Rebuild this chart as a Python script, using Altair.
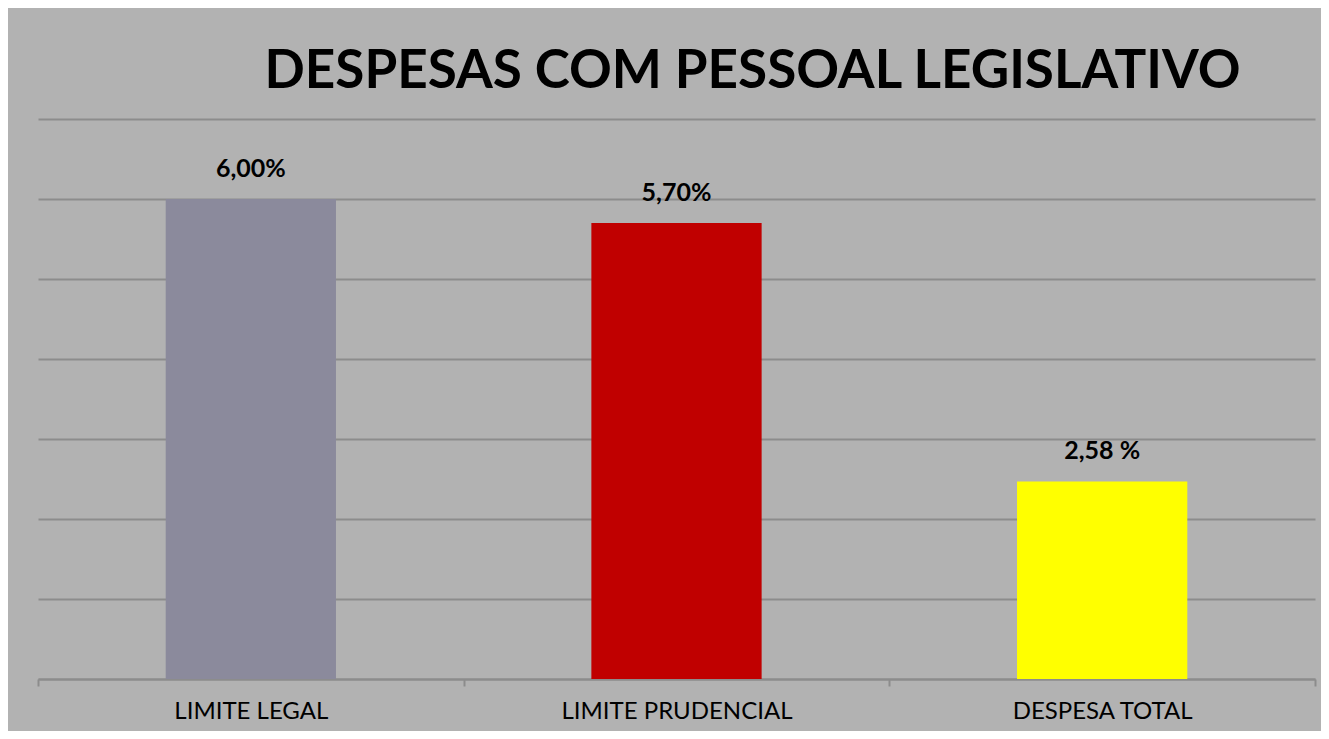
import altair as alt
import pandas as pd

categories = ["LIMITE LEGAL", "LIMITE PRUDENCIAL", "DESPESA TOTAL"]
values = [6.00, 5.70, 2.47]
labels = ["6,00%", "5,70%", "2,58 %"]
colors = ["#8b8a9c", "#c00000", "#ffff00"]

df = pd.DataFrame({"cat": categories, "val": values, "lab": labels, "col": colors})

GRID = "#8c8c8c"
BG = "#b2b2b2"

x = alt.X("cat:N", sort=categories, title=None,
          scale=alt.Scale(paddingInner=0, paddingOuter=0),
          axis=alt.Axis(labelAngle=0, labelFont="Lato", labelFontSize=24,
                        labelColor="#000000", labelPadding=13, labelLimit=0,
                        tickBand="extent",
                        tickColor=GRID, tickWidth=2, tickSize=7,
                        domainColor=GRID, domainWidth=2, grid=False))
y = alt.Y("val:Q", title=None,
          scale=alt.Scale(domain=[0, 7], nice=False),
          axis=alt.Axis(values=[0, 1, 2, 3, 4, 5, 6, 7], labels=False, ticks=False,
                        domain=False, gridColor=GRID, gridWidth=2))

bars = alt.Chart(df).mark_bar(width=alt.RelativeBandSize(0.4)).encode(
    x=x, y=y, color=alt.Color("col:N", scale=None)
)
text = alt.Chart(df).mark_text(font="Lato", fontSize=25, fontWeight="bold",
                               color="#000000", baseline="alphabetic", dy=-22).encode(
    x=alt.X("cat:N", sort=categories), y="val:Q", text="lab:N"
)

chart = alt.layer(bars, text).properties(
    width=1277, height=560,
    title=alt.TitleParams("DESPESAS COM PESSOAL LEGISLATIVO", font="Lato",
                          fontSize=53, fontWeight="bold", color="#000000",
                          anchor="middle", dx=76, offset=20),
    background=BG,
    padding={"left": 30, "top": 111, "right": 6, "bottom": 52},
    autosize=alt.AutoSizeParams(type="none"),
).configure_view(stroke=None, fill=BG)

chart.save("out.html", embed_options={"renderer": "svg", "actions": False})
